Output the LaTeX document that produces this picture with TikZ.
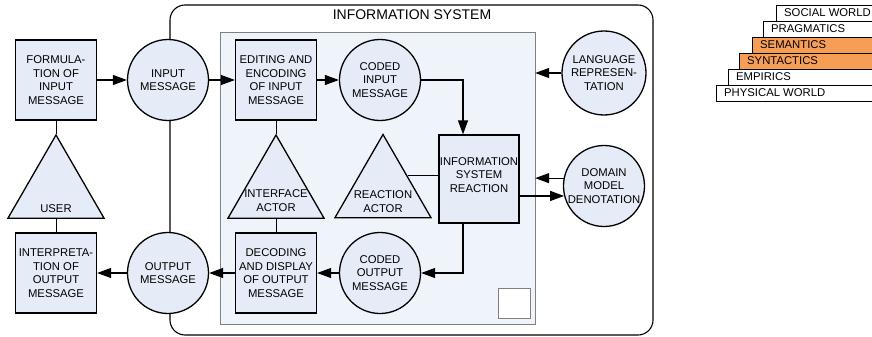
\documentclass[tikz,border=0pt]{standalone}
\usepackage{fontspec}
\setmainfont{Liberation Sans}
\usetikzlibrary{shapes.geometric,arrows.meta}
\definecolor{nodefill}{RGB}{230,236,247}
\definecolor{corefill}{RGB}{239,243,250}
\definecolor{layerorange}{RGB}{246,158,86}
\tikzset{
  lbl/.style={font=\fontsize{11.3}{13.6}\selectfont, align=center, inner sep=0pt},
  procbox/.style={lbl, draw, line width=1.3pt, fill=nodefill, minimum width=81, minimum height=80},
  msgcirc/.style={lbl, circle, draw, line width=1.3pt, fill=nodefill, minimum size=81},
  actor/.style={regular polygon, regular polygon sides=3, draw, line width=1.3pt, fill=nodefill, minimum size=111, inner sep=0pt},
  arr/.style={-{Triangle[length=14pt,width=10pt]}, line width=1.3pt},
  link/.style={line width=1pt},
}
\begin{document}
\begin{tikzpicture}[x=1pt,y=-1pt]
\useasboundingbox (0,0) rectangle (872,337);
% information system frame
\draw[line width=1.1pt, rounded corners=15] (170,5) rectangle (653,335);
\node[font=\fontsize{14}{16}\selectfont, inner sep=0pt] (istitle) at (412,15) {INFORMATION SYSTEM};
\node[draw=gray, fill=corefill, minimum width=315, minimum height=292, inner sep=0pt] (core) at (377.5,178) {};
\node[draw=gray, fill=white, minimum width=32, minimum height=30, inner sep=0pt] (emptybox) at (514,303) {};
% nodes
\node[procbox] (formul) at (56,80) {FORMULA-\\TION OF\\INPUT\\MESSAGE};
\node[msgcirc] (inmsg) at (168,80) {INPUT\\MESSAGE};
\node[procbox] (encode) at (276,80) {EDITING AND\\ENCODING\\OF INPUT\\MESSAGE};
\node[msgcirc] (codedin) at (380,80) {CODED\\INPUT\\MESSAGE};
\node[msgcirc, minimum size=84] (lang) at (604,73) {LANGUAGE\\REPRESEN-\\TATION};
\node[procbox, minimum width=80, minimum height=88, text depth=8pt] (reaction) at (479,179) {INFORMATION\\SYSTEM\\REACTION};
\node[msgcirc] (domain) at (604,186) {DOMAIN\\MODEL\\DENOTATION};
\node[msgcirc] (codedout) at (380,273) {CODED\\OUTPUT\\MESSAGE};
\node[procbox] (decode) at (276,273) {DECODING\\AND DISPLAY\\OF OUTPUT\\MESSAGE};
\node[msgcirc] (outmsg) at (168,273) {OUTPUT\\MESSAGE};
\node[procbox] (interp) at (56,273) {INTERPRETA-\\TION OF\\OUTPUT\\MESSAGE};
% actors
\node[actor] (user) at (56,190.5) {};
\node[actor] (iface) at (276,190.5) {};
\node[actor] (react) at (383,190) {};
\node[lbl] (userlbl) at ([yshift=10]user.side 2) {USER};
\node[lbl] (ifacelbl) at ([yshift=18]iface.side 2) {INTERFACE\\ACTOR};
\node[lbl] (reactlbl) at ([yshift=17]react.side 2) {REACTION\\ACTOR};
% connectors
\draw[arr] (formul) -- (inmsg);
\draw[arr] (inmsg) -- (encode);
\draw[arr] (encode) -- (codedin);
\draw[arr] (codedin) -| ([xshift=-16]reaction.north);
\draw[arr] (lang) -- (lang -| core.east);
\draw[arr] (domain.169) -- (domain.169 -| core.east);
\draw[arr] (domain.194 -| reaction.east) -- (domain.194);
\draw[arr] ([xshift=-16]reaction.south) |- (codedout);
\draw[arr] (codedout) -- (decode);
\draw[arr] (decode) -- (outmsg);
\draw[arr] (outmsg) -- (interp);
\draw[link] (formul) -- (user.corner 1);
\draw[link] (user.side 2) -- (interp);
\draw[link] (encode) -- (iface.corner 1);
\draw[link] (iface.side 2) -- (decode);
\draw[link] (react.side 3) -- (react.side 3 -| reaction.west);
% semiotic ladder
\foreach \xl/\i/\txt/\col in {776/0/SOCIAL WORLD/white, 763/1/PRAGMATICS/white, 752/2/SEMANTICS/layerorange, 739/3/SYNTACTICS/layerorange, 728/4/EMPIRICS/white, 716/5/PHYSICAL WORLD/white} {
  \draw[fill=\col, line width=0.8pt] (\xl,5+16*\i) rectangle (874,21+16*\i);
  \node[lbl, anchor=west] (layer\i) at (\xl+8,13+16*\i) {\txt};
}
\end{tikzpicture}
\end{document}
